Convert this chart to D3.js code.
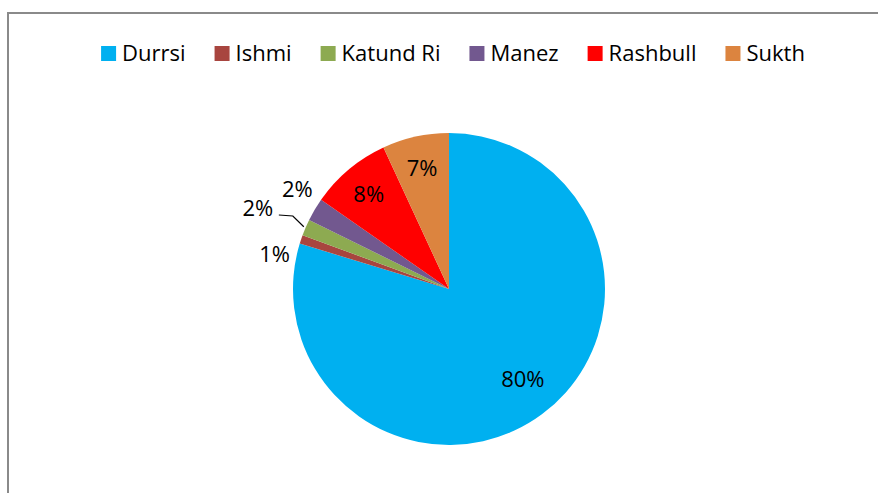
<!DOCTYPE html>
<html>
<head>
<meta charset="utf-8">
<script src="https://cdn.jsdelivr.net/npm/d3@7"></script>
<style>
  body { margin: 0; background: #fff; }
  svg { display: block; font-family: "Open Sans", Lato, sans-serif; }
</style>
</head>
<body>
<svg id="chart" width="878" height="493"></svg>
<script>
// towns and their share
const towns = ['Durrsi', 'Ishmi', 'Katund Ri', 'Manez', 'Rashbull', 'Sukth']
const shares = [79.7, 0.9, 1.7, 2.4, 8.4, 6.9]
const colors = ['#00B0F0', '#A8453F', '#8DAA51', '#72588F', '#FF0000', '#DC843F']

const width = 878, height = 493
const cx = 449, cy = 289, r = 156

const svg = d3.select('#chart')

// outer frame, runs off the right and bottom edge
svg.append('rect')
  .attr('x', 8).attr('y', 13)
  .attr('width', 900).attr('height', 500)
  .attr('fill', 'none')
  .attr('stroke', '#8a8a8a')
  .attr('stroke-width', 2)

const data = towns.map((t, i) => ({ name: t, value: shares[i], color: colors[i] }))
const total = d3.sum(shares)

const pie = d3.pie().value(d => d.value).sort(null)
const arc = d3.arc().innerRadius(0).outerRadius(r)
const arcs = pie(data)

const g = svg.append('g').attr('transform', `translate(${cx},${cy})`)

g.selectAll('path')
  .data(arcs)
  .enter().append('path')
  .attr('d', arc)
  .attr('fill', d => d.data.color)

// label placement: distance from centre and a small turn (degrees)
const labelPos = {
  'Durrsi': { rad: 116, turn: -3 },
  'Ishmi': { rad: 178, turn: -7 },
  'Katund Ri': { rad: 208, turn: 0, leader: true },
  'Manez': { rad: 182, turn: 3 },
  'Rashbull': { rad: 125, turn: 0 },
  'Sukth': { rad: 125, turn: 0 }
}
const polar = (rad, ang) => [rad * Math.sin(ang), -rad * Math.cos(ang)]

arcs.forEach(d => {
  const mid = (d.startAngle + d.endAngle) / 2
  const txt = Math.round(d.data.value / total * 100) + '%'
  const o = labelPos[d.data.name]
  const pos = polar(o.rad, mid + o.turn * Math.PI / 180)
  g.append('text')
    .attr('x', pos[0]).attr('y', pos[1])
    .attr('text-anchor', 'middle')
    .attr('dominant-baseline', 'central')
    .attr('font-size', 22)
    .attr('fill', '#000')
    .text(txt)

  if (o.leader) {
    const a = polar(r + 2, mid)
    const b = [pos[0] + 35, pos[1] + 9]
    const c = [pos[0] + 21, pos[1] + 8]
    g.append('path')
      .attr('d', d3.line()([a, b, c]))
      .attr('fill', 'none')
      .attr('stroke', '#000')
      .attr('stroke-width', 1.2)
  }
})

// legend row, centred over the frame
const legend = svg.append('g')
const items = legend.selectAll('g')
  .data(data)
  .enter().append('g')

items.append('rect')
  .attr('width', 15).attr('height', 15)
  .attr('y', 46)
  .attr('fill', d => d.color)

items.append('text')
  .attr('x', 21).attr('y', 61)
  .attr('font-size', 22)
  .attr('fill', '#000')
  .text(d => d.name)

let x = 0
items.each(function () {
  d3.select(this).attr('transform', `translate(${x},0)`)
  x += this.getBBox().width + 29
})
const legendW = x - 29
legend.attr('transform', `translate(${453 - legendW / 2},0)`)
</script>
</body>
</html>
